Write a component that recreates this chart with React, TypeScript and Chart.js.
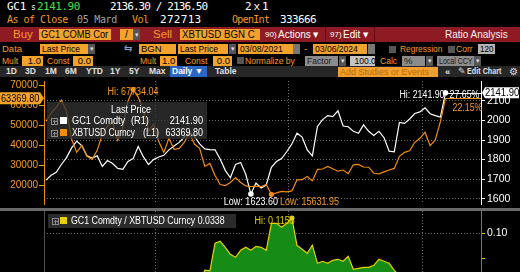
import React, { useEffect, useRef } from "react";
import { Chart, registerables } from "chart.js";

Chart.register(...registerables);

// ---------------- data ----------------
const START_DATE = "03/08/2021";
const END_DATE = "03/06/2024";
const SAMPLE_STEP_DAYS = 14;
// days after 03/08/2021 of 01/01/2022, 01/01/2023, 01/01/2024
const YEAR_START_DAYS = [299, 664, 1029];

const GOLD = [
  1695, 1720, 1735, 1775, 1810, 1860, 1895, 1870, 1819, 1808,
  1819, 1765, 1795, 1780, 1755, 1750, 1790, 1805, 1867, 1815,
  1775, 1800, 1813, 1822, 1850, 1870, 1888, 1915, 1940, 1918,
  1880, 1855, 1851, 1850, 1803, 1745, 1707, 1775, 1785, 1725,
  1623.6, 1680, 1655, 1670, 1760, 1790, 1805, 1840, 1880, 1935,
  1915, 1850, 1819, 1970, 2005, 2025, 2020, 2050, 1972, 1968,
  1945, 1935, 1978, 1945, 1924, 1945, 1912, 1843, 1840, 1990,
  1985, 2008, 2036, 2044, 2065, 2035, 2025, 2018, 2141.9,
];

const BTC = [
  52000, 56000, 59000, 62500, 57000, 43000, 36500, 40000, 34500, 33000,
  37500, 45500, 49500, 51500, 42500, 49000, 62000, 67734.04, 64000, 57500,
  47000, 50500, 42000, 36500, 43500, 38000, 38500, 41500, 46000, 40500,
  38500, 29500, 31000, 25000, 20500, 20000, 21500, 24000, 21500, 19800,
  19500, 19600, 19400, 20500, 15631.95, 16300, 17100, 16800, 17300, 22800,
  22900, 24500, 22300, 28000, 28200, 29500, 28300, 27100, 27700, 25900,
  30300, 30500, 29200, 29100, 26100, 25800, 26800, 27700, 28500, 34500,
  36500, 37300, 41500, 43500, 46500, 39800, 42700, 51800, 63369.8,
];

const RATIO = [
  0.0326, 0.0307, 0.0294, 0.0284, 0.0318, 0.0433, 0.0519, 0.0468, 0.0527, 0.0548,
  0.0485, 0.0388, 0.0363, 0.0346, 0.0413, 0.0357, 0.0289, 0.0266, 0.0292, 0.0316,
  0.0378, 0.0356, 0.0432, 0.0499, 0.0425, 0.0492, 0.049, 0.0461, 0.0422, 0.0474,
  0.0488, 0.0632, 0.0625, 0.09, 0.092, 0.086, 0.079, 0.076, 0.083, 0.086,
  0.083, 0.087, 0.086, 0.083, 0.11, 0.11, 0.106, 0.11, 0.1153, 0.088,
  0.084, 0.08, 0.088, 0.07, 0.072, 0.07, 0.073, 0.074, 0.072, 0.077,
  0.064, 0.065, 0.066, 0.066, 0.068, 0.074, 0.072, 0.07, 0.063, 0.0577,
  0.0544, 0.0538, 0.0491, 0.047, 0.0444, 0.0511, 0.0474, 0.039, 0.0338,
];

const BTC_TICKS = [20000, 30000, 40000, 50000, 60000, 70000];
const GOLD_TICKS = [1600, 1700, 1800, 1900, 2000, 2100];
const RATIO_TICKS = [0.075, 0.1];
const RATIO_LABELLED = 0.1;
const GOLD_CHANGE = "27.65%";
const BTC_CHANGE = "22.15%";

// axis ranges
const X_MIN = -5.5;
const X_MAX = 1189;
const BTC_MIN = 10794;
const BTC_MAX = 72011;
const GOLD_MIN = 1572.6;
const GOLD_MAX = 2202.4;
const RATIO_MIN = 0.0613;
const RATIO_MAX = 0.1223;

const DAYS = GOLD.map((_, i) => i * SAMPLE_STEP_DAYS);

// ---------------- styles ----------------
const SANS = '"Liberation Sans", Arial, sans-serif';
const MONO = '"DejaVu Sans Mono", monospace';
const ORANGE_T = "#f59b23";
const ORANGE_BOX = "#f3a32c";
const BTC_COLOR = "#f28c0f";
const RED = "#8e1b23";
const GREEN_T = "#3fe03f";
const GRID = "#6e6e6e";
const YELLOW = "#e6d000";
const SX = 0.9; // horizontal compression to mimic the narrow terminal font

const argMax = (a: number[]) => a.reduce((m, v, i) => (v > a[m] ? i : m), 0);
const argMin = (a: number[]) => a.reduce((m, v, i) => (v < a[m] ? i : m), 0);

const fixWidth = (w: number) => (s: any) => {
  s.width = w;
  s.paddingTop = 0;
  s.paddingBottom = 0;
};

const xScale = () => ({
  type: "linear",
  min: X_MIN,
  max: X_MAX,
  afterBuildTicks: (s: any) => {
    s.ticks = YEAR_START_DAYS.map((v) => ({ value: v }));
  },
  afterFit: (s: any) => {
    s.height = 0;
    s.paddingLeft = 0;
    s.paddingRight = 0;
  },
  ticks: { display: false },
  grid: { color: GRID, lineWidth: 1, drawTicks: false },
  border: { display: false, dash: [1, 2] },
});

function plusIcon(ctx: CanvasRenderingContext2D, x: number, y: number) {
  ctx.save();
  ctx.strokeStyle = "#8a8a8a";
  ctx.lineWidth = 1;
  ctx.strokeRect(x + 0.5, y + 0.5, 6, 6);
  ctx.beginPath();
  ctx.moveTo(x + 2, y + 3.5);
  ctx.lineTo(x + 6, y + 3.5);
  ctx.moveTo(x + 3.5, y + 2);
  ctx.lineTo(x + 3.5, y + 6);
  ctx.stroke();
  ctx.restore();
}

// draws compressed text; returns its drawn width
function txt(
  ctx: CanvasRenderingContext2D, s: string, x: number, y: number,
  align: CanvasTextAlign = "left", sx = SX
) {
  ctx.save();
  ctx.translate(x, y);
  ctx.scale(sx, 1);
  ctx.textAlign = align;
  ctx.fillText(s, 0, 0);
  const w = ctx.measureText(s).width * sx;
  ctx.restore();
  return w;
}

const mainOverlay = {
  id: "mainOverlay",
  afterDatasetsDraw(chart: any) {
    const { ctx, chartArea: ca, scales } = chart;
    const xs = scales.x, yl = scales.yL, yr = scales.yR;
    const n = GOLD.length - 1;
    const lx = xs.getPixelForValue(DAYS[n]);
    const gy = yr.getPixelForValue(GOLD[n]);
    const by = yl.getPixelForValue(BTC[n]);
    ctx.save();
    // last value leader lines
    ctx.lineWidth = 1;
    ctx.strokeStyle = BTC_COLOR;
    ctx.beginPath();
    ctx.moveTo(lx, Math.round(by) + 0.5);
    ctx.lineTo(ca.right, Math.round(by) + 0.5);
    ctx.stroke();
    ctx.strokeStyle = "#fff";
    ctx.beginPath();
    ctx.moveTo(lx, Math.round(gy) + 0.5);
    ctx.lineTo(ca.right, Math.round(gy) + 0.5);
    ctx.stroke();

    // legend box
    ctx.fillStyle = "rgba(50,50,50,0.78)";
    ctx.fillRect(ca.left + 3, ca.top + 21, 160, 37);
    ctx.font = `10px ${SANS}`;
    ctx.textBaseline = "middle";
    ctx.fillStyle = "#fff";
    txt(ctx, "Last Price", ca.left + 87, ca.top + 29, "center");
    plusIcon(ctx, ca.left + 7, ca.top + 37);
    ctx.fillStyle = "#fff";
    ctx.fillRect(ca.left + 16, ca.top + 36, 7, 7);
    txt(ctx, "GC1 Comdty", ca.left + 28, ca.top + 40.5, "left", 0.92);
    txt(ctx, "(R1)", ca.left + 87, ca.top + 40.5, "left", 0.92);
    txt(ctx, GOLD[n].toFixed(2), ca.left + 159, ca.top + 40.5, "right", 0.92);
    plusIcon(ctx, ca.left + 7, ca.top + 49);
    ctx.fillStyle = BTC_COLOR;
    ctx.fillRect(ca.left + 16, ca.top + 48, 7, 7);
    ctx.fillStyle = "#fff";
    txt(ctx, "XBTUSD Curncy", ca.left + 28, ca.top + 52.5, "left", 0.84);
    txt(ctx, "(L1)", ca.left + 99, ca.top + 52.5, "left", 0.9);
    txt(ctx, BTC[n].toFixed(2), ca.left + 159, ca.top + 52.5, "right", 0.9);

    // hi / low labels
    const bHi = argMax(BTC), bLo = argMin(BTC), gLo = argMin(GOLD);
    ctx.fillStyle = ORANGE_T;
    txt(ctx, "Hi: " + BTC[bHi].toFixed(2), xs.getPixelForValue(DAYS[bHi]), yl.getPixelForValue(BTC[bHi]) + 3, "center");
    const lowY = Math.max(yr.getPixelForValue(GOLD[gLo]), yl.getPixelForValue(BTC[bLo])) + 7.5;
    const gLoTxt = "Low: " + GOLD[gLo].toFixed(2);
    const gLoX = xs.getPixelForValue(DAYS[gLo]);
    ctx.fillStyle = "#fff";
    const gLoW = txt(ctx, gLoTxt, gLoX, lowY, "center");
    ctx.fillStyle = ORANGE_T;
    txt(ctx, "Low: " + BTC[bLo].toFixed(2), gLoX + gLoW / 2 + 2, lowY, "left");

    ctx.fillStyle = "#fff";
    txt(ctx, "Hi: " + GOLD[n].toFixed(2), lx - 1, gy + 2.5, "right", 0.88);
    txt(ctx, GOLD_CHANGE, lx + 4, gy + 2.5, "left", 0.88);
    ctx.fillStyle = ORANGE_T;
    txt(ctx, BTC_CHANGE, lx + 7, by + 9.5, "left", 0.88);

    // right tag (gold last)
    ctx.fillStyle = "#fff";
    ctx.beginPath();
    ctx.moveTo(ca.right + 1, gy);
    ctx.lineTo(ca.right + 4, gy - 5.5);
    ctx.lineTo(519, gy - 5.5);
    ctx.lineTo(519, gy + 5.5);
    ctx.lineTo(ca.right + 4, gy + 5.5);
    ctx.closePath();
    ctx.fill();
    ctx.fillStyle = "#000";
    ctx.font = `10px ${SANS}`;
    txt(ctx, GOLD[n].toFixed(2), ca.right + 4, gy + 0.5, "left", 0.95);

    // left tag (btc last)
    ctx.fillStyle = ORANGE_BOX;
    ctx.beginPath();
    ctx.moveTo(0, by - 6);
    ctx.lineTo(ca.left - 4, by - 6);
    ctx.lineTo(ca.left, by);
    ctx.lineTo(ca.left - 4, by + 6);
    ctx.lineTo(0, by + 6);
    ctx.closePath();
    ctx.fill();
    ctx.fillStyle = "#000";
    txt(ctx, BTC[n].toFixed(2), 1, by + 0.5, "left", 0.92);
    ctx.restore();
  },
};

const ratioOverlay = {
  id: "ratioOverlay",
  afterDatasetsDraw(chart: any) {
    const { ctx, chartArea: ca, scales } = chart;
    const n = RATIO.length - 1;
    const hi = argMax(RATIO);
    ctx.save();
    ctx.fillStyle = "rgba(50,50,50,0.85)";
    ctx.fillRect(ca.left + 4, ca.top + 3, 188, 14);
    plusIcon(ctx, ca.left + 8, ca.top + 7);
    ctx.fillStyle = YELLOW;
    ctx.fillRect(ca.left + 16, ca.top + 6, 7, 7);
    ctx.font = `10px ${SANS}`;
    ctx.textBaseline = "middle";
    ctx.fillStyle = "#fff";
    txt(ctx, "GC1 Comdty / XBTUSD Curncy " + RATIO[n].toFixed(4), ca.left + 27, ca.top + 10.5, "left", 0.88);
    ctx.fillStyle = YELLOW;
    txt(ctx, "Hi: " + RATIO[hi].toFixed(4), scales.x.getPixelForValue(DAYS[hi]) + 3, ca.top + 10.5, "right");
    ctx.restore();
  },
};

function mainConfig(): any {
  const n = GOLD.length - 1;
  const bHi = argMax(BTC), bLo = argMin(BTC), gLo = argMin(GOLD);
  return {
    type: "line",
    data: {
      datasets: [
        {
          label: "XBTUSD Curncy",
          data: BTC.map((v, i) => ({ x: DAYS[i], y: v })),
          yAxisID: "yL",
          borderColor: BTC_COLOR,
          borderWidth: 1.2,
          pointRadius: (c: any) => (c.dataIndex === bHi || c.dataIndex === bLo ? 2.6 : 0),
          pointBackgroundColor: BTC_COLOR,
          pointBorderWidth: 0,
          tension: 0,
        },
        {
          label: "GC1 Comdty",
          data: GOLD.map((v, i) => ({ x: DAYS[i], y: v })),
          yAxisID: "yR",
          borderColor: "#ffffff",
          borderWidth: 1.2,
          pointRadius: (c: any) => (c.dataIndex === gLo || c.dataIndex === n ? 2.8 : 0),
          pointBackgroundColor: "#ffffff",
          pointBorderWidth: 0,
          tension: 0,
        },
      ],
    },
    options: {
      animation: false,
      responsive: false,
      devicePixelRatio: 1,
      events: [],
      layout: { padding: 0 },
      plugins: { legend: { display: false }, tooltip: { enabled: false } },
      scales: {
        x: xScale(),
        yL: {
          type: "linear",
          position: "left",
          min: BTC_MIN,
          max: BTC_MAX,
          afterBuildTicks: (s: any) => {
            s.ticks = BTC_TICKS.map((v) => ({ value: v }));
          },
          afterFit: fixWidth(44),
          ticks: { color: ORANGE_T, font: { family: SANS, size: 10 }, padding: 1, callback: (v: any) => String(v) },
          grid: { drawOnChartArea: false, drawTicks: true, tickLength: 5, tickColor: ORANGE_T, tickWidth: 1 },
          border: { color: BTC_COLOR, width: 1 },
        },
        yR: {
          type: "linear",
          position: "right",
          min: GOLD_MIN,
          max: GOLD_MAX,
          afterBuildTicks: (s: any) => {
            s.ticks = GOLD_TICKS.map((v) => ({ value: v }));
          },
          afterFit: fixWidth(39),
          ticks: { color: "#ffffff", font: { family: SANS, size: 10.5 }, padding: 2, callback: (v: any) => String(v) },
          grid: { color: GRID, lineWidth: 1, drawTicks: true, tickLength: 4, tickColor: "#ffffff", tickWidth: 1 },
          border: { color: "#ffffff", width: 1, dash: [1, 2] },
        },
      },
    },
    plugins: [mainOverlay],
  };
}

function ratioConfig(): any {
  const hi = argMax(RATIO);
  return {
    type: "line",
    data: {
      datasets: [
        {
          label: "GC1 Comdty / XBTUSD Curncy",
          data: RATIO.map((v, i) => ({ x: DAYS[i], y: v })),
          yAxisID: "y",
          borderColor: YELLOW,
          borderWidth: 1.2,
          fill: "start",
          backgroundColor: "#168c16",
          pointRadius: (c: any) => (c.dataIndex === hi ? 2.6 : 0),
          pointBackgroundColor: YELLOW,
          pointBorderWidth: 0,
          tension: 0,
        },
      ],
    },
    options: {
      animation: false,
      responsive: false,
      devicePixelRatio: 1,
      events: [],
      layout: { padding: 0 },
      plugins: { legend: { display: false }, tooltip: { enabled: false } },
      scales: {
        x: xScale(),
        yl: {
          type: "linear",
          position: "left",
          min: 0,
          max: 1,
          afterFit: fixWidth(44),
          ticks: { display: false },
          grid: { drawOnChartArea: false, drawTicks: false },
          border: { color: "#505050", width: 1 },
        },
        y: {
          type: "linear",
          position: "right",
          min: RATIO_MIN,
          max: RATIO_MAX,
          afterBuildTicks: (s: any) => {
            s.ticks = RATIO_TICKS.map((v) => ({ value: v }));
          },
          afterFit: fixWidth(39),
          ticks: {
            color: "#ffffff",
            font: { family: SANS, size: 10.5 },
            padding: 2,
            callback: (v: any) => (Math.abs(v - RATIO_LABELLED) < 1e-9 ? Number(v).toFixed(2) : ""),
          },
          grid: {
            color: (c: any) => (c.tick && Math.abs(c.tick.value - RATIO_LABELLED) < 1e-9 ? GRID : "rgba(0,0,0,0)"),
            lineWidth: 1,
            drawTicks: true,
            tickLength: 4,
            tickColor: "#e0c000",
            tickWidth: 1,
          },
          border: { color: "#8f7d2a", width: 1, dash: [1, 2] },
        },
      },
    },
    plugins: [ratioOverlay],
  };
}

// ---------------- header helpers ----------------
type TP = {
  x: number; y: number; h?: number; c?: string; s?: number; f?: string; b?: boolean; ls?: number; sx?: number;
  children: React.ReactNode;
};
const T = ({ x, y, h = 11, c = "#fff", s = 10, f = SANS, b = false, ls = 0, sx = 1, children }: TP) => (
  <div
    style={{
      position: "absolute", left: x, top: y, height: h, lineHeight: `${h}px`, color: c,
      fontSize: s, fontFamily: f, fontWeight: b ? "bold" : "normal", letterSpacing: ls, whiteSpace: "pre",
      transform: sx !== 1 ? `scaleX(${sx})` : undefined, transformOrigin: "left center",
    }}
  >
    {children}
  </div>
);

type BP = {
  x: number; y: number; w: number; h: number; bg: string; c?: string; s?: number; sx?: number;
  align?: "left" | "right" | "center"; b?: boolean; children?: React.ReactNode;
};
const Box = ({ x, y, w, h, bg, c = "#000", s = 9.5, sx = 1, align = "left", b = false, children }: BP) => (
  <div
    style={{
      position: "absolute", left: x, top: y, width: w, height: h, background: bg, color: c,
      fontSize: s, fontFamily: SANS, fontWeight: b ? "bold" : "normal", lineHeight: `${h}px`,
      textAlign: align, padding: align === "center" ? 0 : "0 2px", boxSizing: "border-box",
      whiteSpace: "pre", overflow: "hidden",
    }}
  >
    <span
      style={{
        display: "inline-block", transform: sx !== 1 ? `scaleX(${sx})` : undefined,
        transformOrigin: align === "right" ? "right center" : align === "center" ? "center" : "left center",
      }}
    >
      {children}
    </span>
  </div>
);

const DD = ({ x, y, h = 10 }: { x: number; y: number; h?: number }) => (
  <Box x={x} y={y} w={7} h={h} bg="#555" c="#ddd" s={7} align="center">▾</Box>
);

function Header() {
  return (
    <>
      {/* row 1 */}
      <T x={7} y={0} h={14} s={11} f={MONO} ls={-0.3}>GC1</T>
      <T x={31} y={1} h={13} s={8} f={MONO}>s</T>
      <T x={37} y={0} h={14} s={11} f={MONO} c={GREEN_T} ls={-0.5}>2141.90</T>
      <T x={110} y={0} h={14} s={11} f={MONO} ls={-0.9}>2136.30 / 2136.50</T>
      <T x={245} y={0} h={14} s={11} f={MONO} ls={-2.4}>2 x 1</T>
      {/* row 2 */}
      <T x={7} y={13} h={13} s={10} f={MONO} c={ORANGE_T} ls={-0.5}>As of Close</T>
      <T x={77} y={13} h={13} s={10} f={MONO} c="#a0a0a0" ls={-0.3}>05 Mard</T>
      <T x={132} y={13} h={13} s={10} f={MONO} c={ORANGE_T} ls={-0.5}>Vol</T>
      <T x={160} y={13} h={13} s={11} f={MONO} ls={0.3}>272713</T>
      <T x={232} y={13} h={13} s={10} f={MONO} c={ORANGE_T} ls={-0.7}>OpenInt</T>
      <T x={280} y={13} h={13} s={11} f={MONO} ls={-0.6}>333666</T>
      {/* row 3 red band */}
      <div style={{ position: "absolute", left: 0, top: 27, width: 520, height: 15, background: RED }} />
      <div style={{ position: "absolute", left: 325, top: 27, width: 1, height: 15, background: "#5e1015" }} />
      <div style={{ position: "absolute", left: 374, top: 27, width: 1, height: 15, background: "#5e1015" }} />
      <T x={13} y={27} h={15} s={11.5} c={ORANGE_T}>Buy</T>
      <Box x={39} y={29} w={72} h={11} bg={ORANGE_BOX} s={10} sx={0.93}>GC1 COMB Cor</Box>
      <Box x={120} y={29} w={13} h={11} bg={ORANGE_BOX} s={10} align="center">/</Box>
      <DD x={133} y={29} h={11} />
      <T x={153} y={27} h={15} s={11.5} c={ORANGE_T}>Sell</T>
      <Box x={180} y={29} w={80} h={11} bg={ORANGE_BOX} s={10} sx={0.97}>XBTUSD BGN C</Box>
      <T x={265} y={27} h={15} s={8} c="#fff">90)</T>
      <T x={278} y={27} h={15} s={10.5} c="#fff" sx={0.95}>Actions ▾</T>
      <T x={330} y={27} h={15} s={8} c="#fff">97)</T>
      <T x={343} y={27} h={15} s={10.5} c="#fff" sx={0.95}>Edit ▾</T>
      <T x={445} y={27} h={15} s={10.5} c="#f0f0f0" sx={0.95}>Ratio Analysis</T>
      {/* row 4 */}
      <T x={2} y={43} h={12} s={9.5} c={ORANGE_T}>Data</T>
      <Box x={40} y={44} w={48} h={10} bg={ORANGE_BOX} sx={0.9}>Last Price</Box>
      <DD x={88} y={44} />
      <T x={124} y={43} h={12} s={10} c="#7fa0c8">⇆</T>
      <Box x={139} y={44} w={37} h={10} bg={ORANGE_BOX}>BGN</Box>
      <Box x={178} y={44} w={50} h={10} bg={ORANGE_BOX} sx={0.9}>Last Price</Box>
      <DD x={229} y={44} />
      <Box x={238} y={44} w={55} h={10} bg={ORANGE_BOX} sx={0.9}>{START_DATE}</Box>
      <Box x={293} y={44} w={7} h={10} bg="#777" />
      <T x={304} y={43} h={12} s={9.5} c={ORANGE_T}>-</T>
      <Box x={313} y={44} w={54} h={10} bg={ORANGE_BOX} sx={0.9}>{END_DATE}</Box>
      <Box x={368} y={44} w={7} h={10} bg="#777" />
      <Box x={389} y={46} w={7} h={7} bg="#555" />
      <T x={400} y={43} h={12} s={9.5} c={ORANGE_T} sx={0.88}>Regression</T>
      <Box x={448} y={46} w={7} h={7} bg="#555" />
      <T x={456} y={43} h={12} s={9.5} c={ORANGE_T} sx={0.9}>Corr</T>
      <Box x={478} y={44} w={17} h={10} bg="#b4b4b4" s={9} sx={0.9}>120</Box>
      {/* row 5 */}
      <T x={2} y={55} h={12} s={9.5} c={ORANGE_T} sx={0.9}>Mult</T>
      <Box x={22} y={56} w={21} h={10} bg={ORANGE_BOX} align="right">1.0</Box>
      <T x={47} y={55} h={12} s={9.5} c={ORANGE_T} sx={0.9}>Const</T>
      <Box x={73} y={56} w={20} h={10} bg={ORANGE_BOX} align="right">0.0</Box>
      <T x={140} y={55} h={12} s={9.5} c={ORANGE_T} sx={0.9}>Mult</T>
      <Box x={160} y={56} w={17} h={10} bg={ORANGE_BOX} align="right">1.0</Box>
      <T x={185} y={55} h={12} s={9.5} c={ORANGE_T} sx={0.9}>Const</T>
      <Box x={213} y={56} w={19} h={10} bg={ORANGE_BOX} align="right">0.0</Box>
      <Box x={237} y={57} w={7} h={7} bg="#555" />
      <T x={245} y={55} h={12} s={9.5} c={ORANGE_T} sx={0.9}>Normalize by</T>
      <Box x={305} y={56} w={33} h={10} bg="#8c8c8c" c="#1a1a1a" sx={0.9}>Factor</Box>
      <DD x={339} y={56} />
      <Box x={350} y={56} w={25} h={10} bg="#c4c4c4" align="right" sx={0.9}>100.0</Box>
      <T x={380} y={55} h={12} s={9.5} c={ORANGE_T} sx={0.9}>Calc</T>
      <Box x={402} y={56} w={23} h={10} bg="#8c8c8c" c="#1a1a1a">%</Box>
      <DD x={426} y={56} />
      <Box x={437} y={56} w={37} h={10} bg="#8c8c8c" c="#1a1a1a" s={9} sx={0.78}>Local CCY</Box>
      <DD x={474} y={56} />
      {/* row 6 */}
      <div style={{ position: "absolute", left: 0, top: 66, width: 520, height: 11, background: "#272727" }} />
      {[["1D", 6], ["3D", 25], ["1M", 45], ["6M", 65], ["YTD", 86], ["1Y", 110], ["5Y", 129], ["Max", 149]].map(
        ([t, x]) => (
          <T key={t as string} x={x as number} y={66} h={11} s={8.5} b c="#e0e0e0">{t}</T>
        )
      )}
      <Box x={170} y={66} w={37} h={11} bg="#2b66c4" c="#fff" s={8.5} b>Daily ▼</Box>
      <T x={215} y={66} h={11} s={8.5} b c="#e0e0e0">Table</T>
      <Box x={338} y={67} w={100} h={10} bg="#f0a030" c="#b86e00" s={9}>Add Studies or Events</Box>
      <T x={445} y={66} h={11} s={9.5} b c="#e0e0e0">«</T>
      <T x={458} y={66} h={11} s={9} c="#e0e0e0">✎</T>
      <T x={467} y={66} h={11} s={8.5} b c="#e0e0e0" sx={0.85}>Edit Chart</T>
      <T x={509} y={66} h={11} s={10} c="#e0e0e0">⚙</T>
    </>
  );
}

export default function App() {
  const mainRef = useRef<HTMLCanvasElement>(null);
  const ratioRef = useRef<HTMLCanvasElement>(null);

  useEffect(() => {
    document.body.style.margin = "0";
    document.body.style.background = "#000";
    const main = new Chart(mainRef.current as HTMLCanvasElement, mainConfig());
    const ratio = new Chart(ratioRef.current as HTMLCanvasElement, ratioConfig());
    return () => {
      main.destroy();
      ratio.destroy();
    };
  }, []);

  return (
    <div
      style={{
        position: "fixed", left: 0, top: 0, width: 520, height: 272, background: "#000",
        overflow: "hidden", fontFamily: SANS,
      }}
    >
      <Header />
      <canvas
        ref={mainRef}
        width={520}
        height={131}
        style={{ position: "absolute", left: 0, top: 77, width: 520, height: 131, display: "block" }}
      />
      <div style={{ position: "absolute", left: 0, top: 208, width: 520, height: 3, background: "#6a6a6a" }} />
      <canvas
        ref={ratioRef}
        width={520}
        height={61}
        style={{ position: "absolute", left: 0, top: 211, width: 520, height: 61, display: "block" }}
      />
    </div>
  );
}
